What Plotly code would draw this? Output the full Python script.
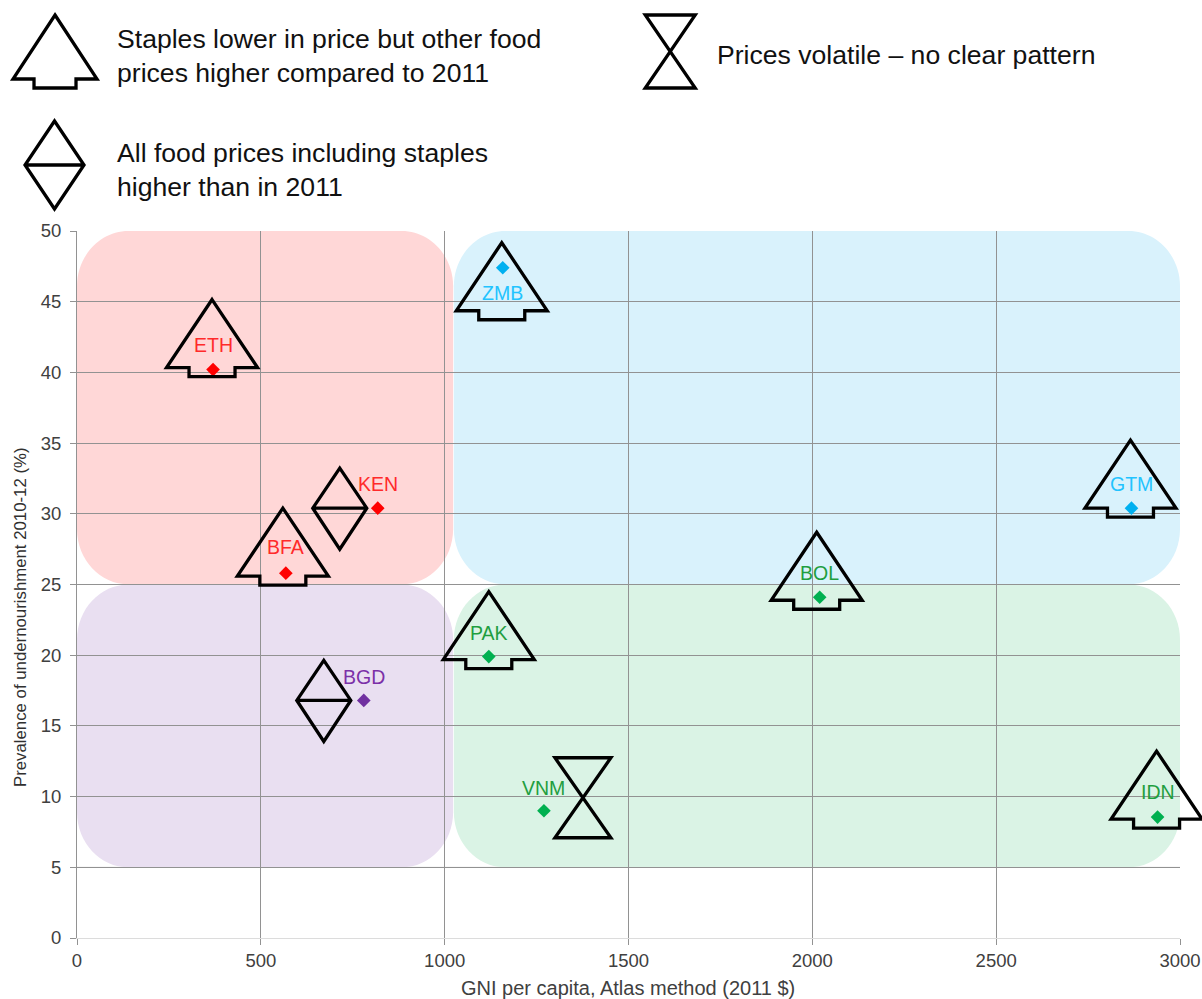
import plotly.graph_objects as go

# ---- data ----
countries = ["ETH", "ZMB", "KEN", "BFA", "GTM", "BOL", "PAK", "BGD", "VNM", "IDN"]
gni_per_capita = [370, 1158, 818, 568, 2868, 2020, 1120, 780, 1270, 2939]
undernourishment = [40.2, 47.4, 30.4, 25.8, 30.4, 24.1, 19.9, 16.8, 9.0, 8.55]
x_ticks = [0, 500, 1000, 1500, 2000, 2500, 3000]
y_ticks = [0, 5, 10, 15, 20, 25, 30, 35, 40, 45, 50]
legend_lines = [
    "Staples lower in price but other food", "prices higher compared to 2011",
    "All food prices including staples", "higher than in 2011",
    "Prices volatile \u2013 no clear pattern",
]
x_title = "GNI per capita, Atlas method (2011 $)"
y_title = "Prevalence of undernourishment 2010-12 (%)"

# ---- styling / layout ----
W, H = 1202, 999
L, R, T, B = 77, 1180.5, 231, 938
PW, PH = R - L, B - T
GRID = "#929292"
FAINT = "#dcdcdc"
RED, BLUE, GREEN, PURPLE = "#ff0000", "#00b0f0", "#00b050", "#7030a0"
marker_colors = [RED, BLUE, RED, RED, BLUE, GREEN, GREEN, PURPLE, GREEN, GREEN]
label_colors = {RED: "#ff2a2a", BLUE: "#22c3ff", GREEN: "#1f9e3f", PURPLE: "#7b30a8"}
label_shift = [25, -25, 24, 26, 24, 24, 24, 23, 23, 25]
# icon kind and pixel offset from the country's marker
icons = {
    "ETH": ("tree", -1, 2), "ZMB": ("tree", -1, -43), "BFA": ("tree", -3, -3),
    "GTM": ("tree", -1, 0), "BOL": ("tree", -3, -3), "PAK": ("tree", 0, -3),
    "IDN": ("tree", -1, -2), "KEN": ("diamond", -38, 0), "BGD": ("diamond", -40, 0),
    "VNM": ("hourglass", 39, 13),
}
TREE = "M 0 68 L 45.5 0 L 23 0 L 23 -9 L -23 -9 L -23 0 L -45.5 0 Z"
DIAMOND = "M 0 40 L 27 0 L 0 -41 L -27 0 Z M -27 0 L 27 0"
HOURGLASS = "M -28 40 L 28 40 L -28 -40 L 28 -40 Z"
PATHS = {"tree": TREE, "diamond": DIAMOND, "hourglass": HOURGLASS}


def icon(kind, xp, yp, path=None):
    return dict(type="path", xref="paper", yref="paper", xsizemode="pixel", ysizemode="pixel",
                xanchor=xp, yanchor=yp, path=path or PATHS[kind],
                line=dict(color="black", width=3.3), fillcolor="rgba(0,0,0,0)", layer="above")


def px(xpix, ypix):
    return (xpix - L) / PW, (B - ypix) / PH


def panel(x0, x1, y0, y1, color, rx=140, ry=3.9):
    kx, ky = rx * 0.45, ry * 0.45
    path = (f"M {x0 + rx} {y0} L {x1 - rx} {y0} C {x1 - kx} {y0} {x1} {y0 + ky} {x1} {y0 + ry} "
            f"L {x1} {y1 - ry} C {x1} {y1 - ky} {x1 - kx} {y1} {x1 - rx} {y1} L {x0 + rx} {y1} "
            f"C {x0 + kx} {y1} {x0} {y1 - ky} {x0} {y1 - ry} L {x0} {y0 + ry} "
            f"C {x0} {y0 + ky} {x0 + kx} {y0} {x0 + rx} {y0} Z")
    return dict(type="path", xref="x", yref="y", path=path, fillcolor=color,
                line=dict(width=0), layer="below")


SPLIT_X = 1023
shapes = [
    panel(0, SPLIT_X, 25, 50, "#ffd7d7"),
    panel(SPLIT_X + 2, 3000, 25, 50, "#d9f2fc"),
    panel(0, SPLIT_X, 5, 25, "#e9dff1"),
    panel(SPLIT_X + 2, 3000, 5, 25, "#daf3e5"),
    dict(type="line", xref="paper", yref="y", x0=0, x1=1, y0=5, y1=5,
         line=dict(color=FAINT, width=1), layer="between"),
]
for name, xv, yv in zip(countries, gni_per_capita, undernourishment):
    kind, dx, dy = icons[name]
    shapes.append(icon(kind, xv / 3000 + dx / PW, yv / 50 + dy / PH))

# legend icons
xa, ya = px(55, 79)
shapes.append(icon("tree", xa, ya,
                   "M 0 64 L 42 0 L 21 0 L 21 -9 L -21 -9 L -21 0 L -42 0 Z"))
xa, ya = px(54.5, 165)
shapes.append(icon("diamond", xa, ya, "M 0 44 L 29.5 0 L 0 -44 L -29.5 0 Z M -29.5 0 L 29.5 0"))
xa, ya = px(670.5, 52)
shapes.append(icon("hourglass", xa, ya, "M -25 37 L 25 37 L -25 -36 L 25 -36 Z"))

annotations = []
for name, xv, yv, col, sh in zip(countries, gni_per_capita, undernourishment, marker_colors, label_shift):
    annotations.append(dict(x=xv, y=yv, xref="x", yref="y", text=name, showarrow=False,
                            yshift=sh, font=dict(family="Liberation Sans", size=19.5, color=label_colors[col])))
for txt, xp, yp in zip(legend_lines, [115, 115, 115, 115, 715], [39, 73, 153, 187, 55]):
    a, b = px(xp, yp)
    annotations.append(dict(x=a, y=b, xref="paper", yref="paper", text=txt, showarrow=False,
                            xanchor="left", yanchor="middle",
                            font=dict(family="Liberation Sans", size=26.6, color="#111111")))
# axis titles
a, b = px(628.5, 988)
annotations.append(dict(x=a, y=b, xref="paper", yref="paper", text=x_title, showarrow=False,
                        xanchor="center", yanchor="middle",
                        font=dict(family="Liberation Sans", size=20, color="#404040")))
a, b = px(20, 617)
annotations.append(dict(x=a, y=b, xref="paper", yref="paper", text=y_title, showarrow=False, textangle=-90,
                        xanchor="center", yanchor="middle",
                        font=dict(family="Liberation Sans", size=16.8, color="#303030")))

fig = go.Figure(go.Scatter(
    x=gni_per_capita, y=undernourishment, mode="markers", text=countries,
    marker=dict(symbol="diamond", size=10.5, color=marker_colors), showlegend=False, cliponaxis=False,
))
axis = dict(showgrid=True, gridcolor=GRID, gridwidth=1, showline=True, linecolor=GRID, linewidth=1,
            ticks="outside", ticklen=6, tickcolor=GRID, zeroline=False, automargin=False,
            tickfont=dict(family="Liberation Sans", size=18.5, color="#404040"))
fig.update_layout(
    width=W, height=H, autosize=False, plot_bgcolor="white", paper_bgcolor="white",
    margin=dict(l=L, r=W - R, t=T, b=H - B, pad=0, autoexpand=False),
    shapes=shapes, annotations=annotations,
    xaxis=dict(axis, range=[0, 3000], tickvals=x_ticks, linecolor=FAINT),
    yaxis=dict(axis, range=[0, 50], tickvals=y_ticks, ticklabelstandoff=5),
)
fig.write_html("out.html", config={"responsive": False, "displayModeBar": False},
               default_width="1202px", default_height="999px",
               post_script="document.body.style.margin='0';document.body.style.overflow='hidden';")
